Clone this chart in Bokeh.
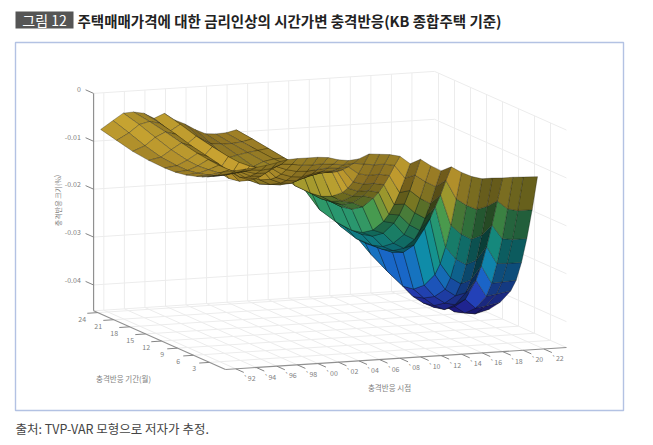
from bokeh.plotting import figure
from bokeh.models import Range1d, ColumnDataSource
from bokeh.core.properties import value
from bokeh.embed import file_html
from bokeh.resources import INLINE
import numpy as np

TITLE_TAG = "그림 12"
TITLE = "주택매매가격에 대한 금리인상의 시간가변 충격반응(KB 종합주택 기준)"
SOURCE = "출처: TVP-VAR 모형으로 저자가 추정."
Z_LABEL = "충격반응 크기(%)"
H_LABEL = "충격반응 기간(월)"
T_LABEL = "충격반응 시점"

Z_TICKS = [0, -0.01, -0.02, -0.03, -0.04]
Z_TICK_LABELS = ["0", "-0.01", "-0.02", "-0.03", "-0.04"]
H_TICKS = [3, 6, 9, 12, 15, 18, 21, 24]
T_TICKS = list(range(1992, 2023, 2))
T_TICK_LABELS = ["`%02d" % (y % 100) for y in T_TICKS]

# shock date (rows) and response horizon in months (columns)
dates = [1991.3, 1992.5, 1993.5, 1994.5, 1995.5, 1996.5, 1997.5, 1998.5, 1999.5, 2000.5,
         2001.5, 2002.5, 2003.5, 2004.5, 2005.5, 2006.5, 2007.5, 2008.5, 2009.5, 2010.5,
         2011.5, 2012.5, 2013.5, 2014.5, 2015.5, 2016.5, 2017.5, 2018.5, 2019.5, 2020.5, 2021.9]
horizons = [1, 2, 3, 4, 5, 6, 8, 10, 12, 15, 18, 21, 24]
# response, in units of 0.0001 percentage points
response = [
    [-47, -59, -66, -72, -77, -81, -88, -92, -93, -92, -88, -80, -72],
    [-46, -57, -65, -71, -76, -80, -86, -90, -90, -87, -78, -66, -55],
    [-44, -54, -62, -68, -73, -77, -80, -82, -80, -73, -62, -50, -41],
    [-42, -52, -60, -66, -70, -72, -72, -70, -67, -60, -52, -45, -40],
    [-39, -54, -66, -76, -84, -88, -86, -80, -75, -68, -58, -50, -44],
    [-35, -52, -66, -78, -88, -96, -108, -112, -108, -95, -82, -68, -56],
    [-30, -44, -54, -62, -68, -72, -78, -80, -78, -72, -65, -55, -47],
    [-29, -46, -62, -76, -88, -97, -108, -110, -105, -95, -88, -78, -62],
    [-29, -49, -67, -83, -96, -106, -119, -128, -130, -120, -105, -88, -72],
    [-29, -50, -68, -85, -98, -108, -121, -130, -133, -125, -115, -100, -85],
    [-31, -49, -66, -80, -91, -100, -112, -120, -122, -119, -110, -102, -95],
    [-37, -51, -64, -76, -86, -94, -105, -110, -112, -110, -106, -102, -97],
    [-40, -54, -66, -76, -84, -90, -100, -105, -107, -106, -103, -100, -96],
    [-38, -52, -64, -75, -84, -90, -100, -106, -108, -105, -100, -95, -91],
    [-29, -55, -80, -102, -120, -134, -152, -162, -165, -164, -150, -135, -118],
    [-31, -58, -85, -108, -128, -143, -163, -174, -178, -175, -165, -148, -125],
    [-33, -58, -84, -108, -128, -144, -168, -182, -186, -184, -176, -158, -135],
    [-38, -62, -88, -112, -133, -150, -178, -193, -198, -196, -188, -170, -150],
    [-55, -90, -125, -155, -180, -200, -228, -243, -248, -245, -235, -205, -165],
    [-47, -85, -122, -155, -183, -205, -236, -252, -258, -258, -248, -215, -175],
    [-62, -100, -140, -175, -205, -230, -258, -275, -282, -283, -272, -235, -190],
    [-74, -112, -152, -188, -218, -242, -270, -285, -292, -295, -285, -250, -205],
    [-67, -100, -135, -165, -195, -220, -265, -290, -300, -300, -290, -260, -220],
    [-80, -140, -200, -250, -290, -318, -350, -368, -372, -355, -335, -310, -275],
    [-90, -155, -220, -277, -321, -350, -375, -388, -395, -375, -350, -322, -285],
    [-96, -165, -232, -290, -335, -365, -390, -405, -410, -392, -355, -315, -270],
    [-96, -160, -225, -282, -328, -360, -395, -415, -420, -400, -360, -310, -260],
    [-97, -150, -205, -255, -300, -335, -385, -410, -418, -398, -355, -300, -245],
    [-97, -168, -235, -292, -338, -370, -405, -425, -432, -410, -360, -300, -240],
    [-98, -173, -238, -293, -337, -367, -402, -428, -435, -410, -355, -290, -230],
    [-99, -173, -238, -293, -335, -362, -396, -420, -428, -395, -340, -280, -222],
]

T_MIN, T_MAX, H_MIN, H_MAX, Z_MIN, Z_MAX = 1991.0, 2024.2, 0.0, 24.75, -0.0454, 0.0
FONT = "Noto Sans CJK KR"


def project(t, h, z):
    """Parallel projection of the box (date, horizon, response) onto page pixels."""
    return (225 + 10.27 * (t - T_MIN) - 5.33 * h,
            369 - 0.662 * (t - T_MIN) - 2.37 * h - 4790 * (z - Z_MIN))


COLOR_Z = [-0.046, -0.042, -0.038, -0.033, -0.029, -0.024, -0.019, -0.015, -0.010, -0.003]
COLOR_RGB = [(30, 15, 90), (35, 30, 150), (40, 65, 195), (25, 105, 200), (15, 140, 170), (25, 150, 130),
             (70, 155, 80), (150, 150, 45), (205, 165, 50), (240, 200, 60)]


def surface_color(z, shade):
    return "#%02x%02x%02x" % tuple(
        int(np.clip(np.interp(z, COLOR_Z, [c[i] for c in COLOR_RGB]) * shade, 0, 255))
        for i in range(3))


p = figure(width=645, height=437, x_range=Range1d(0, 645), y_range=Range1d(437, 0),
           output_backend="svg", toolbar_location=None, min_border=0,
           background_fill_color="white", border_fill_color="white", outline_line_color=None)
p.axis.visible = False
p.grid.visible = False

GRID = "#ececec"
AXIS = "#909090"
TICK = "#858585"
LABEL = "#808080"


def seg(a, b, color, width=1.0):
    xa, ya = project(*a)
    xb, yb = project(*b)
    p.line([xa, xb], [ya, yb], line_color=color, line_width=width)


# walls and floor
for t in T_TICKS:
    seg((t, H_MIN, Z_MIN), (t, H_MAX, Z_MIN), GRID)
    seg((t, H_MAX, Z_MIN), (t, H_MAX, Z_MAX), GRID)
for h in H_TICKS:
    seg((T_MIN, h, Z_MIN), (T_MAX, h, Z_MIN), GRID)
    seg((T_MAX, h, Z_MIN), (T_MAX, h, Z_MAX), GRID)
for z in Z_TICKS:
    seg((T_MIN, H_MAX, z), (T_MAX, H_MAX, z), GRID)
    seg((T_MAX, H_MAX, z), (T_MAX, H_MIN, z), GRID)
seg((T_MAX, H_MAX, Z_MIN), (T_MAX, H_MIN, Z_MIN), GRID)
seg((T_MIN, H_MAX, Z_MIN), (T_MAX, H_MAX, Z_MIN), GRID)

# axes
seg((T_MIN, H_MIN, Z_MIN), (T_MAX, H_MIN, Z_MIN), AXIS, 1.1)
seg((T_MIN, H_MIN, Z_MIN), (T_MIN, H_MAX, Z_MIN), AXIS, 1.1)
seg((T_MIN, H_MAX, Z_MIN), (T_MIN, H_MAX, Z_MAX), AXIS, 1.2)

# surface, painted from the far corner to the near one
xs, ys, fills = [], [], []
Z = np.array(response) * 1e-4
for i in range(len(dates) - 2, -1, -1):
    for j in range(len(horizons) - 2, -1, -1):
        corners = [(dates[i], horizons[j], Z[i, j]), (dates[i + 1], horizons[j], Z[i + 1, j]),
                   (dates[i + 1], horizons[j + 1], Z[i + 1, j + 1]), (dates[i], horizons[j + 1], Z[i, j + 1])]
        pts = [project(*c) for c in corners]
        # signed area on the page tells whether the top or the underside faces the viewer
        area = 0.5 * ((pts[2][0] - pts[0][0]) * (pts[3][1] - pts[1][1])
                      - (pts[3][0] - pts[1][0]) * (pts[2][1] - pts[0][1]))
        zm = float(np.mean([c[2] for c in corners]))
        dz_dt = 0.5 * ((corners[1][2] - corners[0][2]) + (corners[2][2] - corners[3][2])) / (dates[i + 1] - dates[i])
        if area < 0:
            shade = 0.72 + 100 * dz_dt
            shade = float(np.clip(shade, 0.35, 0.95))
        else:
            shade = 0.62 + 6 * max(0.0, -zm - 0.025) - 90 * dz_dt
            shade = float(np.clip(shade, 0.42, 1.0))
        xs.append([q[0] for q in pts])
        ys.append([q[1] for q in pts])
        fills.append(surface_color(zm, shade))

p.patches("xs", "ys", source=ColumnDataSource(dict(xs=xs, ys=ys, c=fills)), fill_color="c",
          line_color="#10100a", line_alpha=0.5, line_width=0.6)

# tick marks and labels
lx, ly, lt = [], [], []
for z, s in zip(Z_TICKS, Z_TICK_LABELS):
    seg((T_MIN, H_MAX, z), (T_MIN, H_MAX + 1.5, z), TICK)
    x, y = project(T_MIN, H_MAX + 2.4, z)
    lx.append(x); ly.append(y + 1); lt.append(s)
p.text(lx, ly, text=lt, text_font=value(FONT), text_font_size="7px", text_color=LABEL,
       text_align="right", text_baseline="middle")

lx, ly, lt = [], [], []
for h in H_TICKS:
    seg((T_MIN, h, Z_MIN), (T_MIN - 1.0, h, Z_MIN), TICK)
    x, y = project(T_MIN - 1.5, h, Z_MIN)
    lx.append(x); ly.append(y + 5); lt.append(str(h))
p.text(lx, ly, text=lt, text_font=value(FONT), text_font_size="7px", text_color=LABEL,
       text_align="center", text_baseline="middle")

lx, ly, lt = [], [], []
for t, s in zip(T_TICKS, T_TICK_LABELS):
    seg((t, H_MIN, Z_MIN), (t, H_MIN - 1.5, Z_MIN), TICK)
    x, y = project(t, H_MIN - 2.6, Z_MIN)
    lx.append(x); ly.append(y + 3); lt.append(s)
p.text(lx, ly, text=lt, text_font=value(FONT), text_font_size="7px", text_color=LABEL,
       text_align="center", text_baseline="middle")

# axis titles
p.text([57], [200], text=[Z_LABEL], angle=[np.pi / 2], text_font=value(FONT), text_font_size="7px",
       text_color=LABEL, text_align="center", text_baseline="middle")
p.text([123], [378], text=[H_LABEL], text_font=value(FONT), text_font_size="7.5px",
       text_color=LABEL, text_align="center", text_baseline="middle")
p.text([389], [387], text=[T_LABEL], text_font=value(FONT), text_font_size="7.5px",
       text_color=LABEL, text_align="center", text_baseline="middle")

# heading, frame, source
p.quad(left=[15], right=[73], top=[11], bottom=[28], fill_color="#555555", line_color=None)
p.text([44], [19.5], text=[TITLE_TAG], text_font=value(FONT), text_font_size="14px",
       text_color="white", text_align="center", text_baseline="middle")
p.text([77], [19.5], text=[TITLE], text_font=value(FONT), text_font_size="14.5px", text_font_style="bold",
       text_color="#222222", text_align="left", text_baseline="middle")
p.quad(left=[15], right=[623], top=[42], bottom=[410], fill_color=None,
       line_color="#b3c2e3", line_width=1.4)
p.text([15], [428], text=[SOURCE], text_font=value(FONT), text_font_size="12.5px",
       text_color="#444444", text_align="left", text_baseline="middle")

open("out.html", "w").write(file_html(p, INLINE))
